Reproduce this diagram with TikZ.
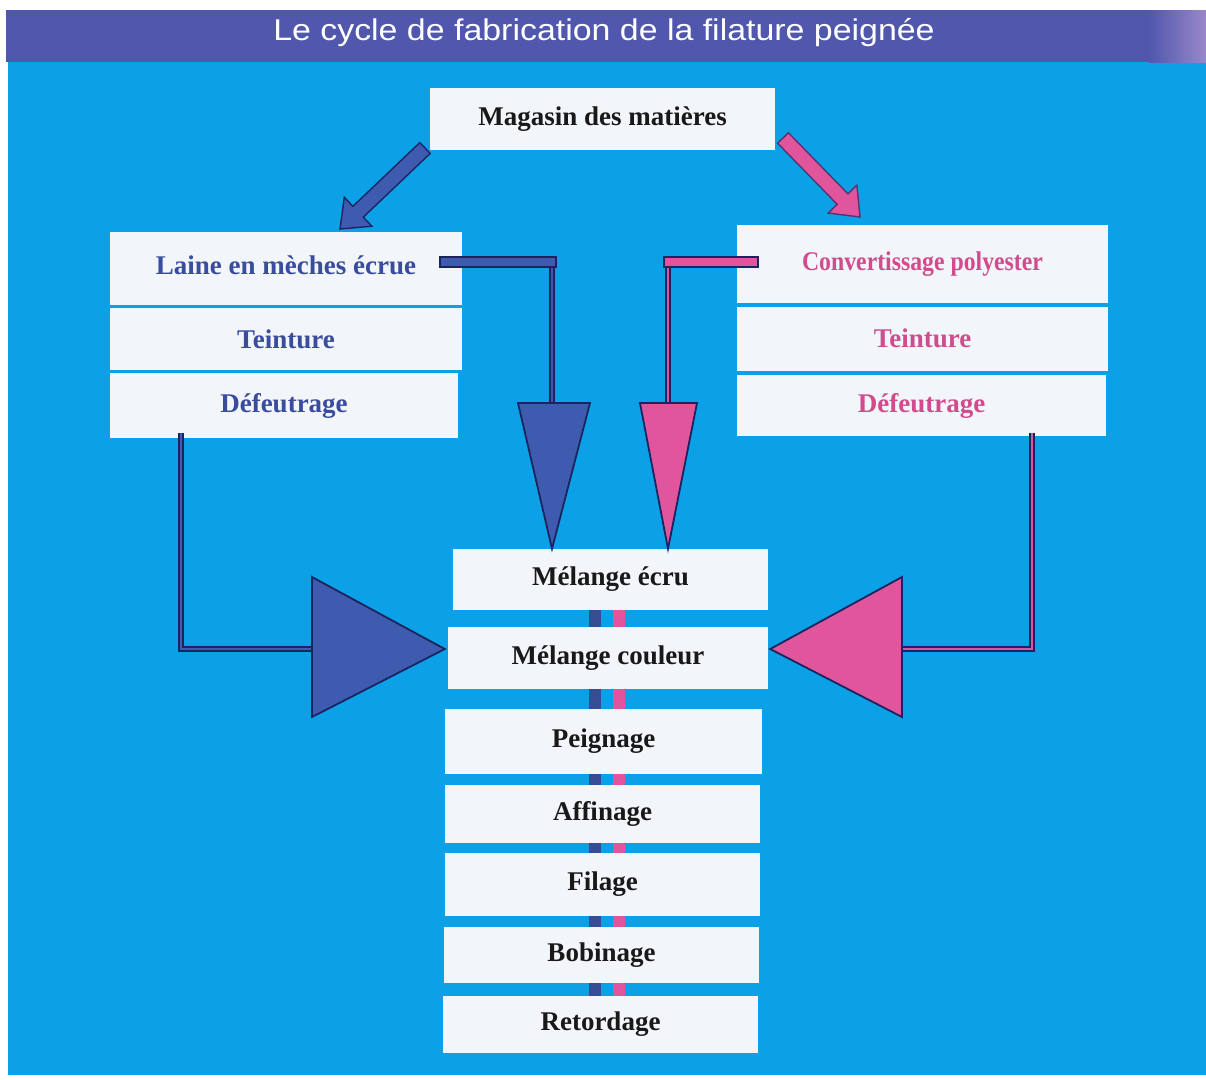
\documentclass[tikz,border=0pt]{standalone}
\usepackage{fontspec}
\usepackage{graphicx}
\setmainfont{Liberation Serif}
\newfontfamily\titlefont{Liberation Sans}
\usetikzlibrary{calc}
\definecolor{bgblue}{HTML}{0CA0E6}
\definecolor{bannerL}{HTML}{5057AC}
\definecolor{bannerR}{HTML}{9A88CA}
\definecolor{boxfill}{HTML}{F2F5F9}
\definecolor{txtblue}{HTML}{3A4C9E}
\definecolor{txtpink}{HTML}{D04C8E}
\definecolor{arrblue}{HTML}{3F5BB0}
\definecolor{arrpink}{HTML}{E0559B}
\definecolor{navy}{HTML}{1C2460}
\newcommand\mblockarrow[3]{%
  \coordinate (nk) at ($(#3)!25pt!(#2)$);
  \path[#1] ($(#2)!7.5pt!90:(#3)$) -- ($(nk)!7.5pt!90:(#3)$) -- ($(nk)!20pt!90:(#3)$) -- (#3)
    -- ($(nk)!20pt!-90:(#3)$) -- ($(nk)!7.5pt!-90:(#3)$) -- ($(#2)!7.5pt!-90:(#3)$) -- cycle;}
\begin{document}
\begin{tikzpicture}[x=1pt,y=-1pt,
  box/.style={fill=boxfill, inner sep=0pt, font=\bfseries\fontsize{27}{30}\selectfont},
  blk/.style={box, text=black!90},
  blu/.style={box, text=txtblue},
  pnk/.style={box, text=txtpink},
  bluepipe/.style={draw=navy, line width=1.6pt, double=arrblue, double distance=2.6pt},
  pinkpipe/.style={draw=navy, line width=1.6pt, double=arrpink, double distance=2.6pt},
  bluetri/.style={fill=arrblue, draw=navy, line width=1.8pt, line join=miter},
  pinktri/.style={fill=arrpink, draw=navy, line width=1.8pt, line join=miter},
  bluediag/.style={fill=arrblue, draw=navy, line width=1.4pt},
  pinkdiag/.style={fill=arrpink, draw=navy!70!arrpink, line width=1.4pt},
  bluebar/.style={fill=arrblue, draw=navy, line width=1.4pt},
  pinkbar/.style={fill=arrpink, draw=navy, line width=1.4pt},
  linkb/.style={draw=arrblue!85!black, line width=12pt},
  linkp/.style={draw=arrpink, line width=12pt}]
\useasboundingbox (0,0) rectangle (1206,1079);
\fill[white] (0,0) rectangle (1206,1079);
\fill[bgblue] (8,62) rectangle (1206,1075);
\fill[bannerL] (6,10) rectangle (1150,62);
\shade[left color=bannerL, right color=bannerR] (1149,10) rectangle (1206,62);
\node[text=white, font=\titlefont\fontsize{30}{34}\selectfont] (title) at (604,33)
  {\scalebox{1.13}[1]{Le cycle de fabrication de la filature peignée}};

% boxes
\node[blk, minimum width=345pt, minimum height=62pt] (mag) at (602.5,119) {Magasin des matières};
\node[blu, minimum width=352pt, minimum height=73pt] (laine) at (286,268.5) {\raisebox{7pt}{Laine en mèches écrue}};
\node[blu, minimum width=352pt, minimum height=62pt] (teintL) at (286,339) {Teinture};
\node[blu, minimum width=348pt, minimum height=65pt] (defL) at (284,405.5) {Défeutrage};
\node[pnk, minimum width=371pt, minimum height=78pt] (conv) at (922.5,264) {\scalebox{0.88}[1]{Convertissage polyester}};
\node[pnk, minimum width=371pt, minimum height=64pt] (teintR) at (922.5,338.5) {Teinture};
\node[pnk, minimum width=369pt, minimum height=61pt] (defR) at (921.5,405.5) {Défeutrage};
\node[blk, minimum width=315pt, minimum height=61pt] (mecru) at (610.5,579.5) {Mélange écru};
\node[blk, minimum width=320pt, minimum height=62pt] (mcoul) at (608,658) {Mélange couleur};
\node[blk, minimum width=317pt, minimum height=65pt] (peign) at (603.5,741.5) {Peignage};
\node[blk, minimum width=315pt, minimum height=58pt] (affin) at (602.5,814) {Affinage};
\node[blk, minimum width=315pt, minimum height=63pt] (filage) at (602.5,884.5) {Filage};
\node[blk, minimum width=315pt, minimum height=56pt] (bobin) at (601.5,955) {Bobinage};
\node[blk, minimum width=315pt, minimum height=57pt] (retord) at (600.5,1024.5) {Retordage};

% links between the central steps
\coordinate (bx) at (595,0);
\coordinate (px) at (619,0);
\foreach \a/\b in {mecru/mcoul, mcoul/peign, peign/affin, affin/filage, filage/bobin, bobin/retord}{
  \draw[linkb] (\a.south -| bx) -- (\b.north -| bx);
  \draw[linkp] (\a.south -| px) -- (\b.north -| px);
}

% diagonal block arrows from the store
\coordinate (bt) at (425,148);
\coordinate (bh) at (340,229);
\mblockarrow{bluediag}{bt}{bh}
\coordinate (pt) at (783,138);
\coordinate (ph) at (860,217);
\mblockarrow{pinkdiag}{pt}{ph}

% blue feed into Mélange écru
\coordinate (lb1) at (552,262);
\coordinate (lbt) at (552,403);
\draw[bluepipe] (lb1) -- (lbt);
\draw[bluebar] (440,257) rectangle (556,267);
\draw[bluetri] (518,403) -- (590,403) -- (mecru.north -| lbt) -- cycle;

% pink feed into Mélange écru
\coordinate (rb1) at (668,262);
\coordinate (rbt) at (668,403);
\draw[pinkpipe] (rb1) -- (rbt);
\draw[pinkbar] (664,257) rectangle (758,267);
\draw[pinktri] (640,403) -- (697,403) -- (mecru.north -| rbt) -- cycle;

% blue feed into Mélange couleur
\coordinate (lp0) at (181,433);
\coordinate (lp1) at (312,649);
\draw[bluepipe] (lp0) |- (lp1);
\draw[bluetri] (312,577) -- (312,717) -- ($(mcoul.west |- lp1)+(-3,0)$) -- cycle;

% pink feed into Mélange couleur
\coordinate (rp0) at (1032,433);
\coordinate (rp1) at (902,649);
\draw[pinkpipe] (rp0) |- (rp1);
\draw[pinktri] (902,577) -- (902,717) -- ($(mcoul.east |- rp1)+(2,0)$) -- cycle;
\end{tikzpicture}
\end{document}
